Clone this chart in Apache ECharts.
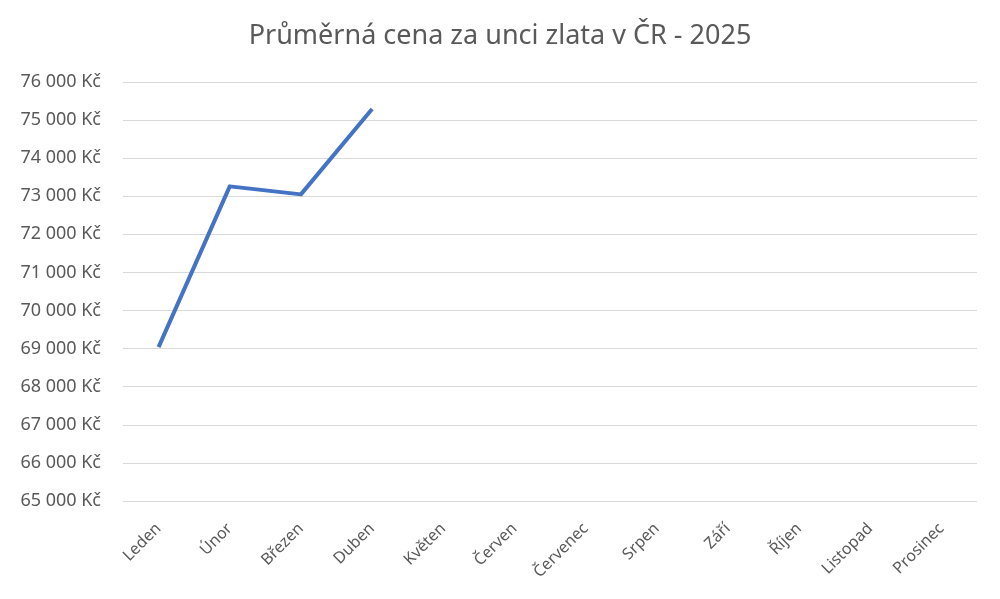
<!DOCTYPE html>
<html><head><meta charset="utf-8">
<script src="https://cdn.jsdelivr.net/npm/echarts@6/dist/echarts.min.js"></script>
<style>html,body{margin:0;padding:0;background:#fff}#c{width:1000px;height:599px}</style>
</head><body><div id="c"></div>
<script>
const title = 'Průměrná cena za unci zlata v ČR - 2025';
const months = ['Leden','Únor','Březen','Duben','Květen','Červen','Červenec','Srpen','Září','Říjen','Listopad','Prosinec'];
const prices = [69040, 73260, 73050, 75290, null, null, null, null, null, null, null, null];
const yMin = 65000, yMax = 76000, yStep = 1000;

const chart = echarts.init(document.getElementById('c'), null, {renderer:'canvas'});
const font = '"Noto Sans", "Open Sans", sans-serif';
chart.setOption({
  animation:false,
  backgroundColor:'#fff',
  title:{text:title,left:'center',top:18,textStyle:{fontFamily:font,fontSize:27,fontWeight:'normal',color:'#595959'}},
  grid:{left:123,right:23,top:82,bottom:98,containLabel:false},
  xAxis:{type:'category',data:months,boundaryGap:true,
    axisLine:{show:false},axisTick:{show:false},
    axisLabel:{rotate:45,interval:0,margin:25,color:'#595959',fontFamily:font,fontSize:16}},
  yAxis:{type:'value',min:yMin,max:yMax,interval:yStep,
    axisLine:{show:false},axisTick:{show:false},
    splitLine:{lineStyle:{color:'#d9d9d9',width:1}},
    axisLabel:{margin:22,color:'#595959',fontFamily:font,fontSize:18,
      formatter:v=>String(v).replace(/\B(?=(\d{3})+(?!\d))/g,' ')+' Kč'}},
  series:[{type:'line',data:prices,symbol:'none',lineStyle:{color:'#4472C4',width:4,join:'round'},itemStyle:{color:'#4472C4'}}]
});
</script></body></html>
